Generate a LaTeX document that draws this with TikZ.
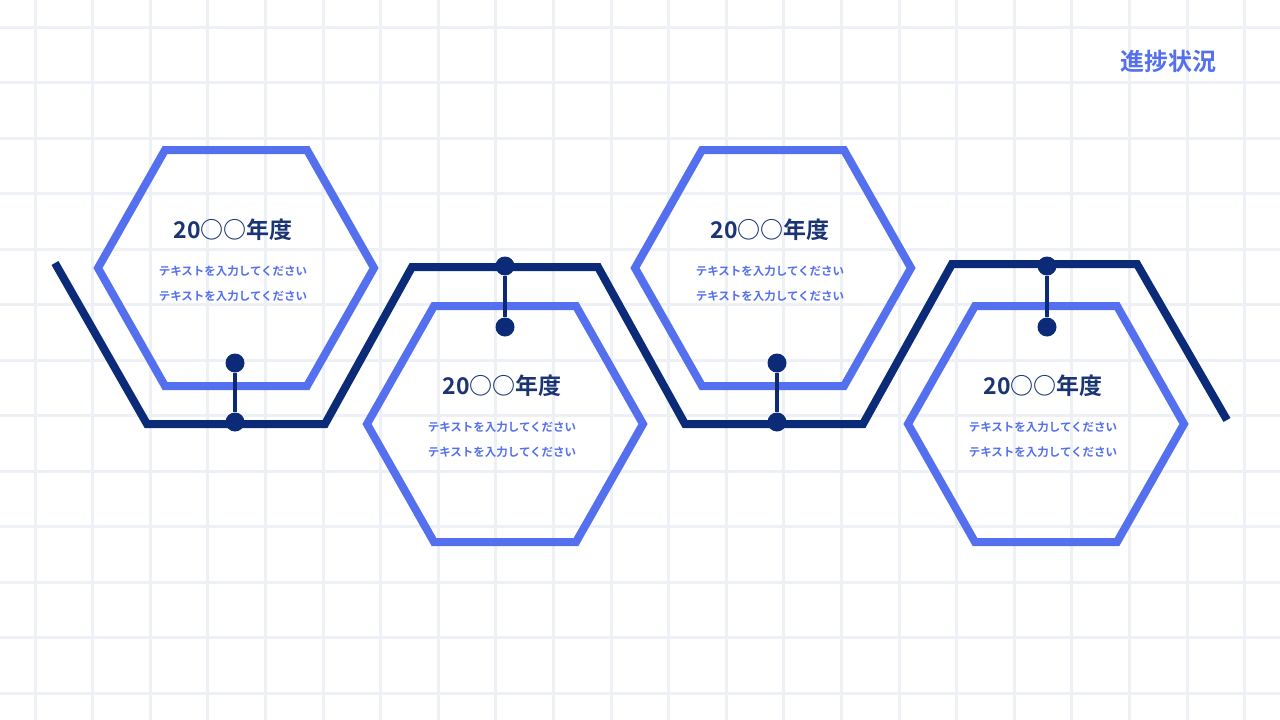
\documentclass[tikz,border=0pt]{standalone}
\usepackage{fontspec}
\newfontfamily\cjk{Noto Sans CJK JP}
\newfontfamily\cjkb{Noto Sans CJK JP Bold}
\definecolor{hexb}{HTML}{5470EE}
\definecolor{navy}{HTML}{0B2A78}
\definecolor{yr}{HTML}{1B3473}
\definecolor{gridc}{HTML}{EDF0F4}
\begin{document}
\begin{tikzpicture}[x=1pt,y=-1pt,
  hex/.style={draw=hexb,line width=8pt,line join=miter},
  track/.style={draw=navy,line width=8pt,line join=miter},
  stem/.style={draw=navy,line width=4pt},
  dot/.style={circle,fill=navy,minimum size=19pt,inner sep=0pt},
  yt/.style={font=\cjkb\fontsize{23}{25}\selectfont,text=yr},
  st/.style={font=\cjkb\fontsize{11.5}{13}\selectfont,text=hexb}]
\useasboundingbox (0,0) rectangle (1280,720);
\fill[white] (0,0) rectangle (1280,720);
\foreach \i in {0,...,21} \draw[gridc,line width=3pt] ({35+57.6*\i},0) -- ({35+57.6*\i},720);
\foreach \j in {0,...,12} \draw[gridc,line width=3pt] (0,{27+55.5*\j}) -- (1280,{27+55.5*\j});
\node[font=\cjkb\fontsize{24}{26}\selectfont,text=hexb] (title) at (1168,61) {進捗状況};
% track
\draw[track] (55,263) -- (147,424) -- (325,424) -- (412,267) -- (598,267) -- (685,424) -- (863,424) -- (952,264) -- (1137,264) -- (1227,420);
% hexagons
\foreach \cx/\cy/\n in {236/268/1,505/424/2,773/268/3,1046/424/4}{
  \draw[hex] (\cx-138,\cy) -- (\cx-71,\cy-118) -- (\cx+71,\cy-118) -- (\cx+138,\cy) -- (\cx+71,\cy+118) -- (\cx-71,\cy+118) -- cycle;
  \node[yt] (y\n) at (\cx-3,\cy-38) {20○○年度};
  \node[st] (a\n) at (\cx-3,\cy+3) {テキストを入力してください};
  \node[st] (b\n) at (\cx-3,\cy+28) {テキストを入力してください};
}
% stems
\node[dot] (d1a) at (235,363) {}; \node[dot] (d1b) at (235,422) {};
\node[dot] (d2a) at (505,266) {}; \node[dot] (d2b) at (505,327) {};
\node[dot] (d3a) at (777,363) {}; \node[dot] (d3b) at (777,422) {};
\node[dot] (d4a) at (1047,266) {}; \node[dot] (d4b) at (1047,327) {};
\draw[stem] (d1a) -- (d1b); \draw[stem] (d2a) -- (d2b);
\draw[stem] (d3a) -- (d3b); \draw[stem] (d4a) -- (d4b);
\end{tikzpicture}
\end{document}
